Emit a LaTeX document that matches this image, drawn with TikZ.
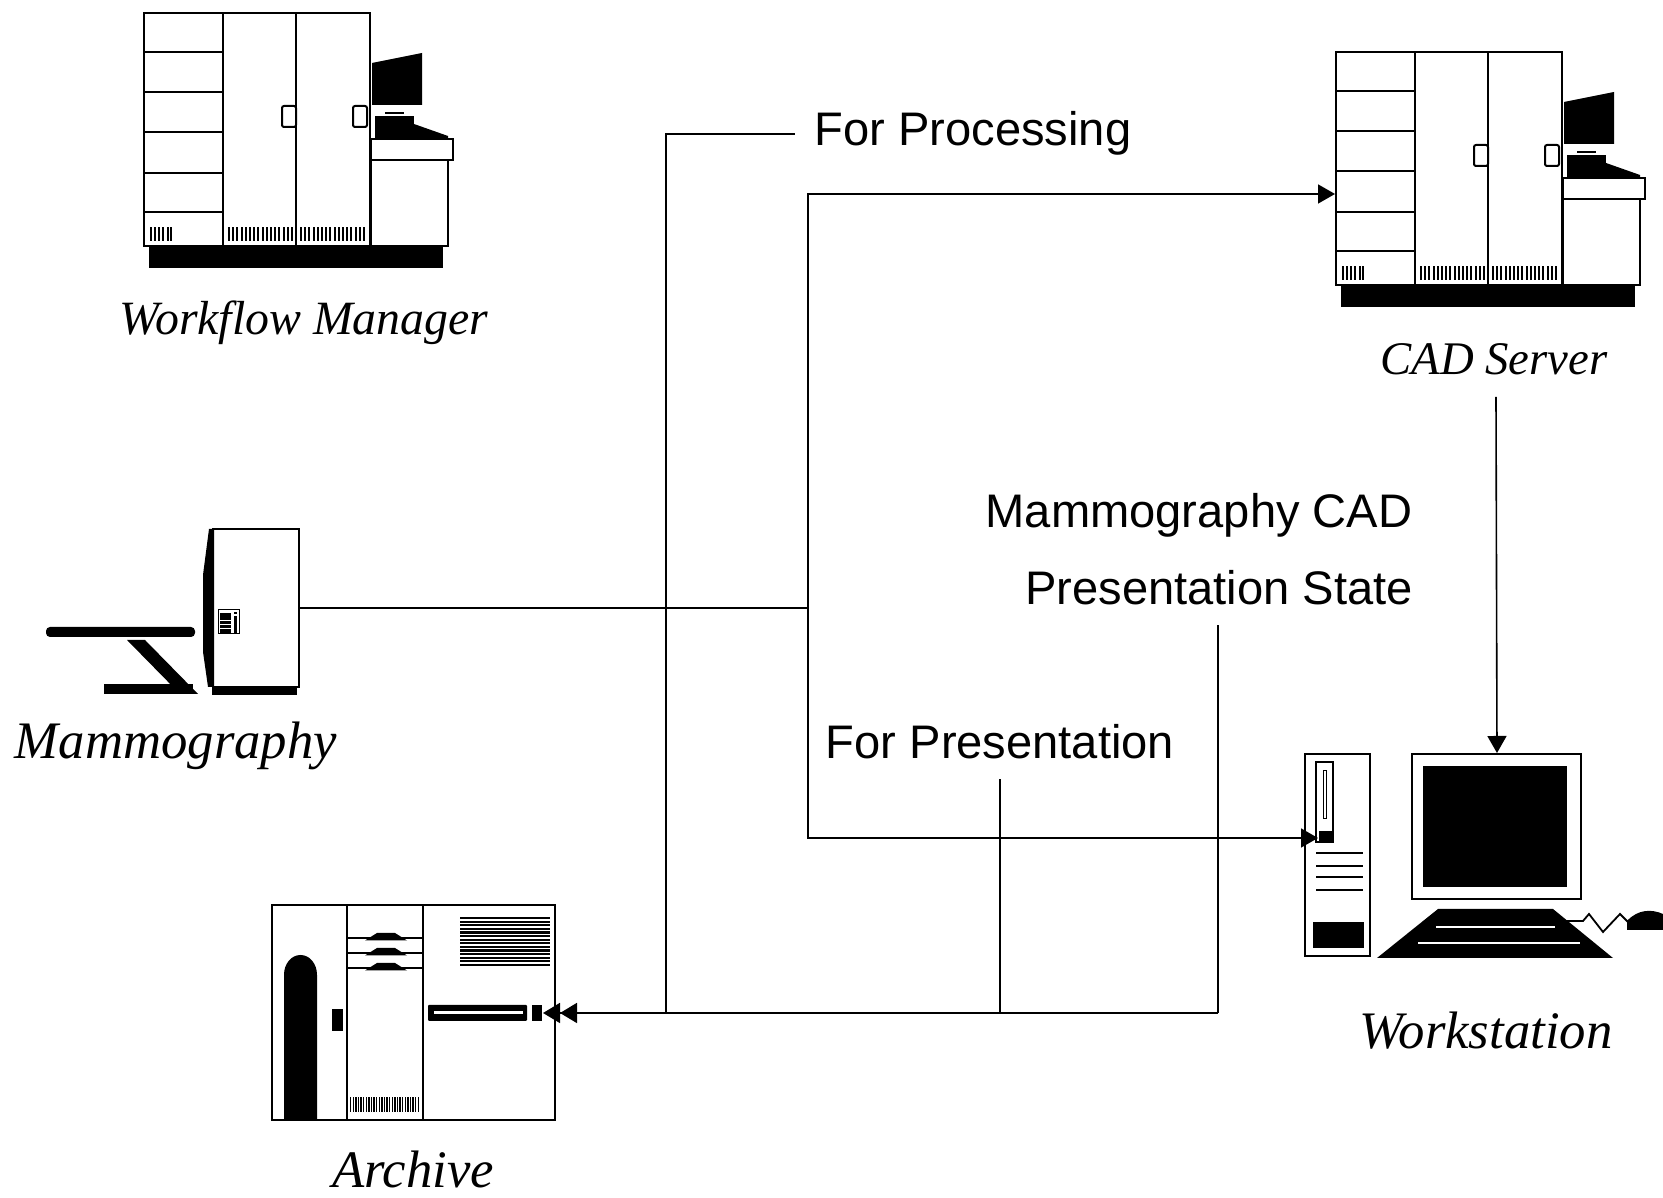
\documentclass[tikz,border=0pt]{standalone}
\usepackage{fontspec}
\setmainfont{Liberation Serif}
\setsansfont{Liberation Sans}
\usepackage{tikz}
\usetikzlibrary{arrows.meta}
\tikzset{
  dev/.style={line width=0.2mm},
  wire/.style={line width=0.16mm},
  arr/.style={-{Triangle[length=1.7mm,width=1.9mm]}},
  arrarr/.style={-{Triangle[length=1.7mm,width=2mm]Triangle[length=1.7mm,width=2mm]}},
  devlabel/.style={anchor=base, font=\itshape\fontsize{#1}{18}\selectfont},
  devlabel/.default=15,
  flowlabel/.style={anchor=base, inner sep=0pt, outer sep=2mm, font=\sffamily\fontsize{13.4}{16}\selectfont}
}
\newcommand{\drawServer}{
  % zoccolo
  \fill (5,233) rectangle (299,255);
  % armadi
  \draw[dev] (0,0) rectangle (226,233);
  \draw[dev] (79,0) -- (79,233) (152,0) -- (152,233);
  \foreach \y in {39,79,119,160,199} \draw[dev] (0,\y) -- (79,\y);
  \draw[dev, rounded corners=0.2mm] (138,93) rectangle (152,114);
  \draw[dev, rounded corners=0.2mm] (209,93) rectangle (223,114);
  \foreach \x in {6,10,14,18,22.5,26} \fill (\x,214) rectangle ++(2,14);
  \foreach \x in {84,88.2,...,147} \fill (\x,214) rectangle ++(2,14);
  \foreach \x in {156,160.2,...,220} \fill (\x,214) rectangle ++(2,14);
  % console
  \draw[dev] (227,147) rectangle (304,233);
  \draw[dev] (227,126) rectangle (309,147);
  \fill (228,50) -- (278,40) -- (278,92) -- (228,92) -- cycle;
  \fill (241,99) rectangle (260,101.5);
  \fill (231,103) rectangle (270,125);
  \fill (270,111) -- (304,123) -- (304,125) -- (270,125) -- cycle;
}

\begin{document}
\begin{tikzpicture}[x=0.1mm, y=-0.1mm]
    % Parametri
    \pgfmathsetmacro{\xsplit}{808}
    \pgfmathsetmacro{\ybus}{1013}
    \useasboundingbox (0,0) rectangle (1663,1198);
    % Workflow Manager e CAD Server
    \begin{scope}[shift={(144,13)}]
        \drawServer
    \end{scope}
    \begin{scope}[shift={(1336,52)}]
        \drawServer
    \end{scope}
    % Mammografo
    \fill[rounded corners=0.4mm] (46,627) rectangle (195,637);
    \fill (127,640) -- (145,640) -- (198,694) -- (180,694) -- cycle;
    \fill (104,684) rectangle (193,694);
    \fill (212,687) rectangle (297,695);
    \draw[dev] (213,529) rectangle (299,687);
    \fill (214,529) -- (209,529) -- (203,575) -- (203,652) -- (208,687) -- (214,687) -- cycle;
    \draw[line width=0.1mm] (218,610) rectangle (239,634);
    \fill (219.5,613) rectangle (231,633);
    \draw[white, line width=0.08mm] (219.5,620) -- (231,620) (219.5,624) -- (231,624) (219.5,628) -- (231,628);
    \fill (233.5,616) rectangle (236.5,633);
    \fill (233.5,612) rectangle (236.5,614);
    % Workstation
    \draw[dev] (1305,754) rectangle (1370,956);
    \draw[dev] (1316,762) rectangle (1333,842);
    \draw[line width=0.1mm] (1323,771) rectangle (1326,819);
    \fill (1319,831) rectangle (1332,842);
    \foreach \y in {853,866,877,890} \draw[dev] (1316,\y) -- (1363,\y);
    \fill (1313,922) rectangle (1364,948);
    \draw[dev] (1412,754) rectangle (1581,899);
    \fill (1423,766) rectangle (1567,887);
    \fill (1438,909) -- (1553,909) -- (1613,958) -- (1377,958) -- cycle;
    \draw[white, line width=0.15mm] (1436,927) -- (1555,927) (1418,943) -- (1580,943);
    \draw[line width=0.18mm] (1567,921) -- (1583,921) -- (1589,914) -- (1603,932) -- (1620,914) -- (1628,922);
    \fill (1627,930) -- (1627,921) .. controls (1638,909) and (1652,909) .. (1663,914) -- (1663,930) -- cycle;
    % Archivio
    \draw[dev] (272,905) rectangle (555,1120);
    \draw[dev] (347,905) -- (347,1120) (423,905) -- (423,1120);
    \fill (284,1120) -- (284,975) .. controls (284,964) and (291,955) .. (300.5,955)
        .. controls (310,955) and (317,964) .. (317,975) -- (317,1120) -- cycle;
    \fill (332,1009) rectangle (343,1031);
    \foreach \y in {938,953,968} {
        \draw[dev] (347,\y) -- (423,\y);
        \fill (365,\y+2.5) -- (377,\y-5) -- (395,\y-5) -- (407,\y+2.5) -- cycle;
    }
    \foreach \x in {350,352.6,...,420} \fill (\x,1097) rectangle ++(1.4,15);
    \foreach \i in {0,...,13} \fill (460,917+3.6*\i) rectangle ++(90,2.3);
    \fill[rounded corners=0.1mm] (428,1005) rectangle (527,1021);
    \fill[white] (434,1011) rectangle (523,1014.5);
    \fill (532,1005) rectangle (542,1021);
    % Etichette
    \node[devlabel=13.6] (wmLabel) at (304,335) {Workflow Manager};
    \node[devlabel=13.3] (cadLabel) at (1494,375) {CAD Server};
    \node[devlabel] (mammoLabel) at (176,759) {Mammography};
    \node[devlabel] (wsLabel) at (1486,1049) {Workstation};
    \node[devlabel] (archLabel) at (413,1188) {Archive};
    \node[flowlabel] (procText) at (973,146) {For Processing};
    \node[flowlabel] (presText) at (1000,759) {For Presentation};
    \node[flowlabel] (stateTop) at (1199,528) {Mammography CAD};
    \node[flowlabel] (stateText) at (1219,605) {Presentation State};
    % Collegamenti
    \coordinate (mammoOut) at (299,608);
    \coordinate (split) at (\xsplit,608);
    \coordinate (cadIn) at (1335,194);
    \coordinate (wsIn) at (1318,838);
    \coordinate (wsTop) at (1497,753);
    \coordinate (cadOut) at (1496,397);
    \coordinate (archIn) at (543,\ybus);
    \coordinate (procFoot) at (666,\ybus);
    \coordinate (stateFoot) at (1218,\ybus);
    \draw[wire] (mammoOut) -- (split);
    \draw[wire, arr] (split) |- (cadIn);
    \draw[wire, arr] (split) |- (wsIn);
    \draw[wire, arr] (cadOut) -- (wsTop);
    \draw[wire] (procText.west) -| (procFoot);
    \draw[wire] (presText.south) -- (presText.south |- archIn);
    \draw[wire] (stateFoot |- stateText.south) -- (stateFoot);
    \draw[wire, arrarr] (stateFoot) -- (archIn);
\end{tikzpicture}
\end{document}
